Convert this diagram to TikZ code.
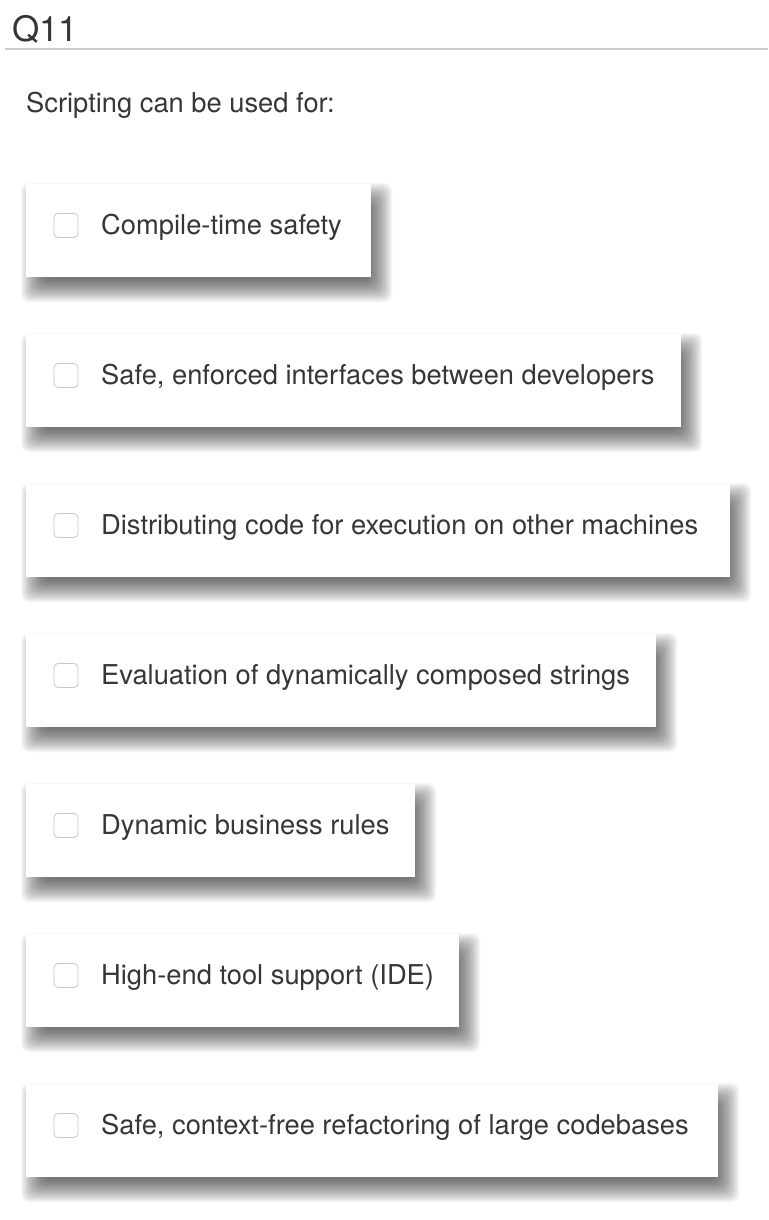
\documentclass[tikz,border=0pt]{standalone}
\usepackage{fontspec}
\setmainfont{TeX Gyre Heros}
\usetikzlibrary{backgrounds}
\definecolor{inktext}{HTML}{363636}
\definecolor{ruleline}{HTML}{CCCCCC}
\definecolor{boxedge}{HTML}{C8C8C8}
% soft drop shadow under a card, built from stacked light layers
\newcommand{\optshadow}[1]{%
  \foreach \e in {-10,...,13}
    \fill[black, opacity=0.03, rounded corners=8pt]
      ([xshift={8pt-(\e)*1pt}, yshift={-12pt-(\e)*1pt}]#1.south west) rectangle
      ([xshift={8pt+(\e)*1pt}, yshift={-12pt+(\e)*1pt}]#1.north east);}

\begin{document}
\begin{tikzpicture}[x=1pt,y=1pt,
  every node/.style={text=inktext},
  optbox/.style={fill=white, minimum height=93pt, inner sep=0pt, anchor=north west},
  chkbox/.style={draw=boxedge, fill=white, rounded corners=4pt, minimum size=24pt, inner sep=0pt, line width=0.8pt},
  opttext/.style={anchor=base west, inner sep=0pt, font=\fontsize{27.3}{32}\selectfont}]
  \useasboundingbox (0,0) rectangle (768,-1220);
  \node[anchor=base west, inner sep=0pt, font=\fontsize{35}{40}\selectfont] (qnum) at (12,-42) {Q11};
  \coordinate (rulestart) at (5,-49);
  \coordinate (ruleend) at (768,-49);
  \draw[ruleline, line width=1.5pt] (rulestart) -- (ruleend);
  \node[opttext] (prompt) at (26,-113) {Scripting can be used for:};
  \foreach \i/\w/\txt in {0/345/{Compile-time safety},
      1/655/{Safe, enforced interfaces between developers},
      2/704/{Distributing code for execution on other machines},
      3/630/{Evaluation of dynamically composed strings},
      4/389/{Dynamic business rules},
      5/433/{High-end tool support (IDE)},
      6/692/{Safe, context-free refactoring of large codebases}}
  {
    \node[optbox, minimum width=\w pt] (opt\i) at (26,-184-150*\i) {};
    \begin{scope}[on background layer]
      \optshadow{opt\i}
    \end{scope}
    \node[chkbox] (chk\i) at ([xshift=40pt,yshift=-41.5pt]opt\i.north west) {};
    \node[opttext] (lbl\i) at ([xshift=75pt,yshift=-50pt]opt\i.north west) {\txt};
  }
\end{tikzpicture}
\end{document}
